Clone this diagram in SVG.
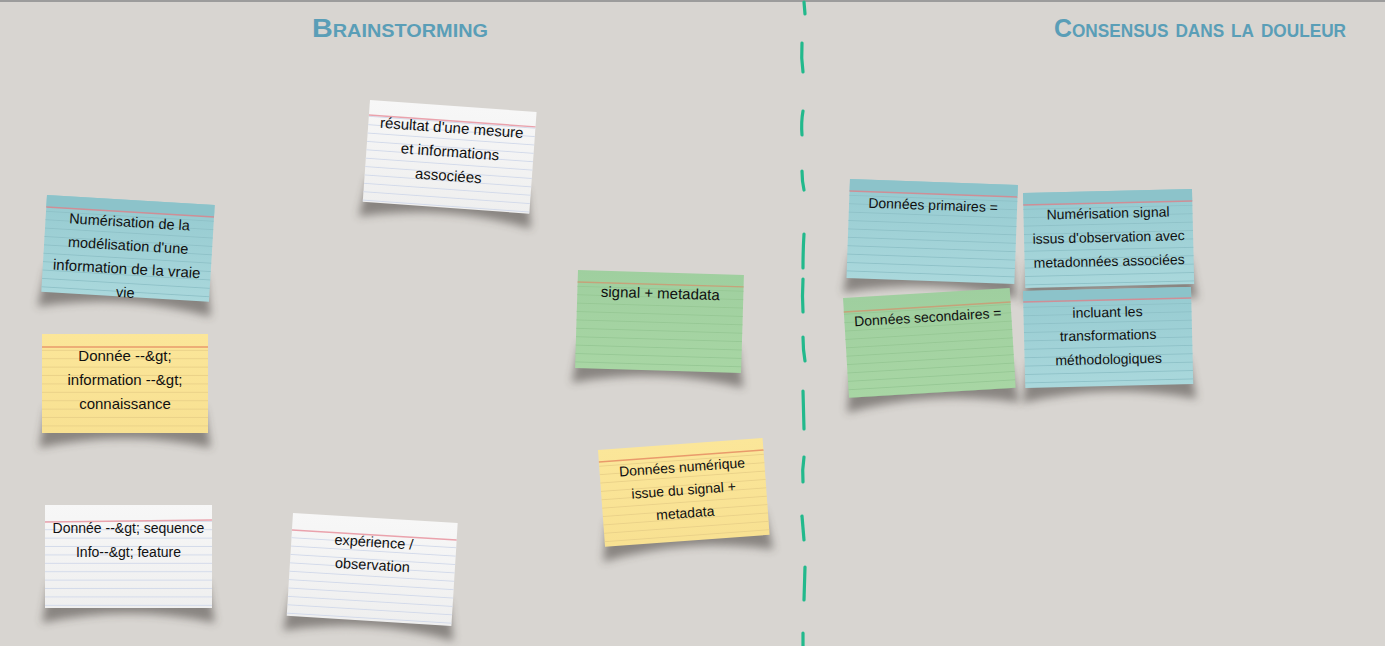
<svg xmlns="http://www.w3.org/2000/svg" width="1385" height="646" viewBox="0 0 1385 646">
<style>
.bg{fill:#d8d5d1}
.head{font-family:"Liberation Sans",Arial,sans-serif;font-weight:bold;font-variant:small-caps;fill:#5a9eb7;font-size:26px}
.t{font-family:"Liberation Sans",Arial,sans-serif;font-size:14.5px;fill:#101010;text-anchor:middle}
.t15{font-size:15px}
.t14{font-size:14px}
.shadow{fill:#3b3630;opacity:.5;filter:url(#blur)}
.red-w{stroke:#eaa2ac;stroke-width:1.4}
.red-b{stroke:#cf8e96;stroke-width:1.4}
.red-y{stroke:#e99a6b;stroke-width:1.4}
.red-g{stroke:#c6a27a;stroke-width:1.4}
.dash{fill:none;stroke:#22b98c;stroke-width:3.2;stroke-linecap:round}
</style>
<defs>
<filter id="blur" x="-20%" y="-30%" width="140%" height="160%"><feGaussianBlur stdDeviation="4.5"/></filter>
<linearGradient id="gw" x1="0" y1="0" x2="0" y2="1"><stop offset="0" stop-color="#f7f7f7"/><stop offset="1" stop-color="#efefef"/></linearGradient>
<linearGradient id="gb" x1="0" y1="0" x2="0" y2="1"><stop offset="0" stop-color="#95cad0"/><stop offset="1" stop-color="#aad8dc"/></linearGradient>
<linearGradient id="gy" x1="0" y1="0" x2="0" y2="1"><stop offset="0" stop-color="#fbe699"/><stop offset="1" stop-color="#f8e192"/></linearGradient>
<linearGradient id="gg" x1="0" y1="0" x2="0" y2="1"><stop offset="0" stop-color="#9fcf9f"/><stop offset="1" stop-color="#a8d6a4"/></linearGradient>
<pattern id="lw" width="40" height="8.4" patternUnits="userSpaceOnUse"><rect y="7.4" width="40" height="1" fill="#d3daea"/></pattern>
<pattern id="lb" width="40" height="8.4" patternUnits="userSpaceOnUse"><rect y="7.4" width="40" height="1" fill="#8fc2c8"/></pattern>
<pattern id="ly" width="40" height="8.4" patternUnits="userSpaceOnUse"><rect y="7.4" width="40" height="1" fill="#ead289"/></pattern>
<pattern id="lg" width="40" height="8.4" patternUnits="userSpaceOnUse"><rect y="7.4" width="40" height="1" fill="#97c895"/></pattern>
</defs>

<rect class="bg" x="0" y="0" width="1385" height="646"/>
<rect x="0" y="0" width="1385" height="2" fill="#9c9c9c"/>

<g id="divider">
<path class="dash" d="M804,2 L805,14"/>
<path class="dash" d="M802,43 Q801,58 803,72"/>
<path class="dash" d="M803,111 Q801,122 802,135"/>
<path class="dash" d="M802,171 Q802,181 804,190"/>
<path class="dash" d="M804,234 Q803,250 803,268"/>
<path class="dash" d="M803,279 Q802,296 803,312"/>
<path class="dash" d="M803,337 Q803,350 805,361"/>
<path class="dash" d="M803,391 L804,429"/>
<path class="dash" d="M804,457 Q802,470 803,482"/>
<path class="dash" d="M802,516 Q803,528 804,540"/>
<path class="dash" d="M805,567 L804,600"/>
<path class="dash" d="M803,633 L803,646"/>
</g>

<g id="title-brainstorming"><text class="head" x="312" y="37" textLength="176" lengthAdjust="spacingAndGlyphs">Brainstorming</text></g>
<g id="title-consensus"><text class="head" x="1054" y="37" textLength="292" lengthAdjust="spacingAndGlyphs">Consensus dans la douleur</text></g>

<g id="connectors"></g>

<g id="card-resultat" transform="translate(370,100) rotate(4.1)">
<path class="shadow" d="M4,77 L163,77 L170,117 Q83.5,98 -3,117 Z"/>
<rect width="167" height="102" fill="url(#gw)"/>
<rect y="15" width="167" height="87" fill="url(#lw)"/>
<line class="red-w" x1="0" y1="15" x2="167" y2="15"/>
<text class="t t15" x="83.5" y="27">résultat d'une mesure</text>
<text class="t t15" x="83.5" y="51">et informations</text>
<text class="t t15" x="83.5" y="75">associées</text>
</g>

<g id="card-numerisation" transform="translate(47,195) rotate(3.4)">
<path class="shadow" d="M4,72 L164,72 L171,112 Q84,93 -3,112 Z"/>
<rect width="168" height="97" fill="url(#gb)"/>
<rect width="168" height="12" fill="#8cc3ca"/>
<rect y="12" width="168" height="85" fill="url(#lb)"/>
<line class="red-b" x1="0" y1="12" x2="168" y2="12"/>
<text class="t" x="84" y="27">Numérisation de la</text>
<text class="t" x="84" y="50.5">modélisation d'une</text>
<text class="t t15" x="84" y="74">information de la vraie</text>
<text class="t" x="84" y="97.5">vie</text>
</g>

<g id="card-donnee-info" transform="translate(42,334)">
<path class="shadow" d="M4,74 L162,74 L169,114 Q83,95 -3,114 Z"/>
<rect width="166" height="99" fill="url(#gy)"/>
<rect y="13" width="166" height="86" fill="url(#ly)"/>
<line class="red-y" x1="0" y1="13" x2="166" y2="13"/>
<text class="t t15" x="83" y="27">Donnée --&amp;gt;</text>
<text class="t t15" x="83" y="51">information --&amp;gt;</text>
<text class="t t15" x="83" y="75">connaissance</text>
</g>

<g id="card-donnee-sequence" transform="translate(45,505)">
<path class="shadow" d="M4,78 L163,78 L170,118 Q83.5,99 -3,118 Z"/>
<rect width="167" height="103" fill="url(#gw)"/>
<rect y="16" width="167" height="87" fill="url(#lw)"/>
<line class="red-w" x1="0" y1="17" x2="167" y2="15"/>
<text class="t t14" x="83.5" y="28">Donnée --&amp;gt; sequence</text>
<text class="t t14" x="83.5" y="52">Info--&amp;gt; feature</text>
</g>

<g id="card-experience" transform="translate(293,513) rotate(3.5)">
<path class="shadow" d="M4,78 L161,78 L168,118 Q82.5,99 -3,118 Z"/>
<rect width="165" height="103" fill="url(#gw)"/>
<rect y="17" width="165" height="86" fill="url(#lw)"/>
<line class="red-w" x1="0" y1="17" x2="165" y2="17"/>
<text class="t" x="82.5" y="29">expérience /</text>
<text class="t" x="82.5" y="52">observation</text>
</g>

<g id="card-signal" transform="translate(578,270) rotate(1.7)">
<path class="shadow" d="M4,73 L162,73 L169,113 Q83,94 -3,113 Z"/>
<rect width="166" height="98" fill="url(#gg)"/>
<rect y="12" width="166" height="86" fill="url(#lg)"/>
<line class="red-g" x1="0" y1="12" x2="166" y2="12"/>
<text class="t t15" x="83" y="26">signal + metadata</text>
</g>

<g id="card-donnees-numerique" transform="translate(598,450) rotate(-4.16)">
<path class="shadow" d="M4,72 L161,72 L168,112 Q82.5,93 -3,112 Z"/>
<rect width="165" height="97" fill="url(#gy)"/>
<rect y="12" width="165" height="85" fill="url(#ly)"/>
<line class="red-y" x1="0" y1="12" x2="165" y2="12"/>
<text class="t t14" x="82.5" y="28">Données numérique</text>
<text class="t t14" x="82.5" y="51">issue du signal +</text>
<text class="t t14" x="82.5" y="74">metadata</text>
</g>

<g id="card-primaires" transform="translate(850,179) rotate(2.05)">
<path class="shadow" d="M4,74 L164,74 L171,114 Q84,95 -3,114 Z"/>
<rect width="168" height="99" fill="url(#gb)"/>
<rect width="168" height="12" fill="#8cc3ca"/>
<rect y="12" width="168" height="87" fill="url(#lb)"/>
<line class="red-b" x1="0" y1="12" x2="168" y2="12"/>
<text class="t t14" x="84" y="28">Données primaires =</text>
</g>

<g id="card-numerisation-signal" transform="translate(1023,193) rotate(-1.36)">
<path class="shadow" d="M4,70 L165,70 L172,110 Q84.5,91 -3,110 Z"/>
<rect width="169" height="95" fill="url(#gb)"/>
<rect width="169" height="12" fill="#8cc3ca"/>
<rect y="12" width="169" height="83" fill="url(#lb)"/>
<line class="red-b" x1="0" y1="12" x2="169" y2="12"/>
<text class="t t14" x="84.5" y="27">Numérisation signal</text>
<text class="t t14" x="84.5" y="51">issus d'observation avec</text>
<text class="t t14" x="84.5" y="75">metadonnées associées</text>
</g>

<g id="card-secondaires" transform="translate(843,298) rotate(-3.43)">
<path class="shadow" d="M4,75 L163,75 L170,115 Q83.5,96 -3,115 Z"/>
<rect width="167" height="100" fill="url(#gg)"/>
<rect y="14" width="167" height="86" fill="url(#lg)"/>
<line class="red-g" x1="0" y1="14" x2="167" y2="14"/>
<text class="t t14" x="83.5" y="29">Données secondaires =</text>
</g>

<g id="card-incluant" transform="translate(1023,291) rotate(-1.36)">
<path class="shadow" d="M4,72 L164,72 L171,112 Q84,93 -3,112 Z"/>
<rect width="168" height="97" fill="url(#gb)"/>
<rect width="168" height="11" fill="#8cc3ca"/>
<rect y="11" width="168" height="86" fill="url(#lb)"/>
<line class="red-b" x1="0" y1="11" x2="168" y2="11"/>
<text class="t t14" x="84" y="28">incluant les</text>
<text class="t t14" x="84" y="51">transformations</text>
<text class="t t14" x="84" y="75">méthodologiques</text>
</g>
</svg>
